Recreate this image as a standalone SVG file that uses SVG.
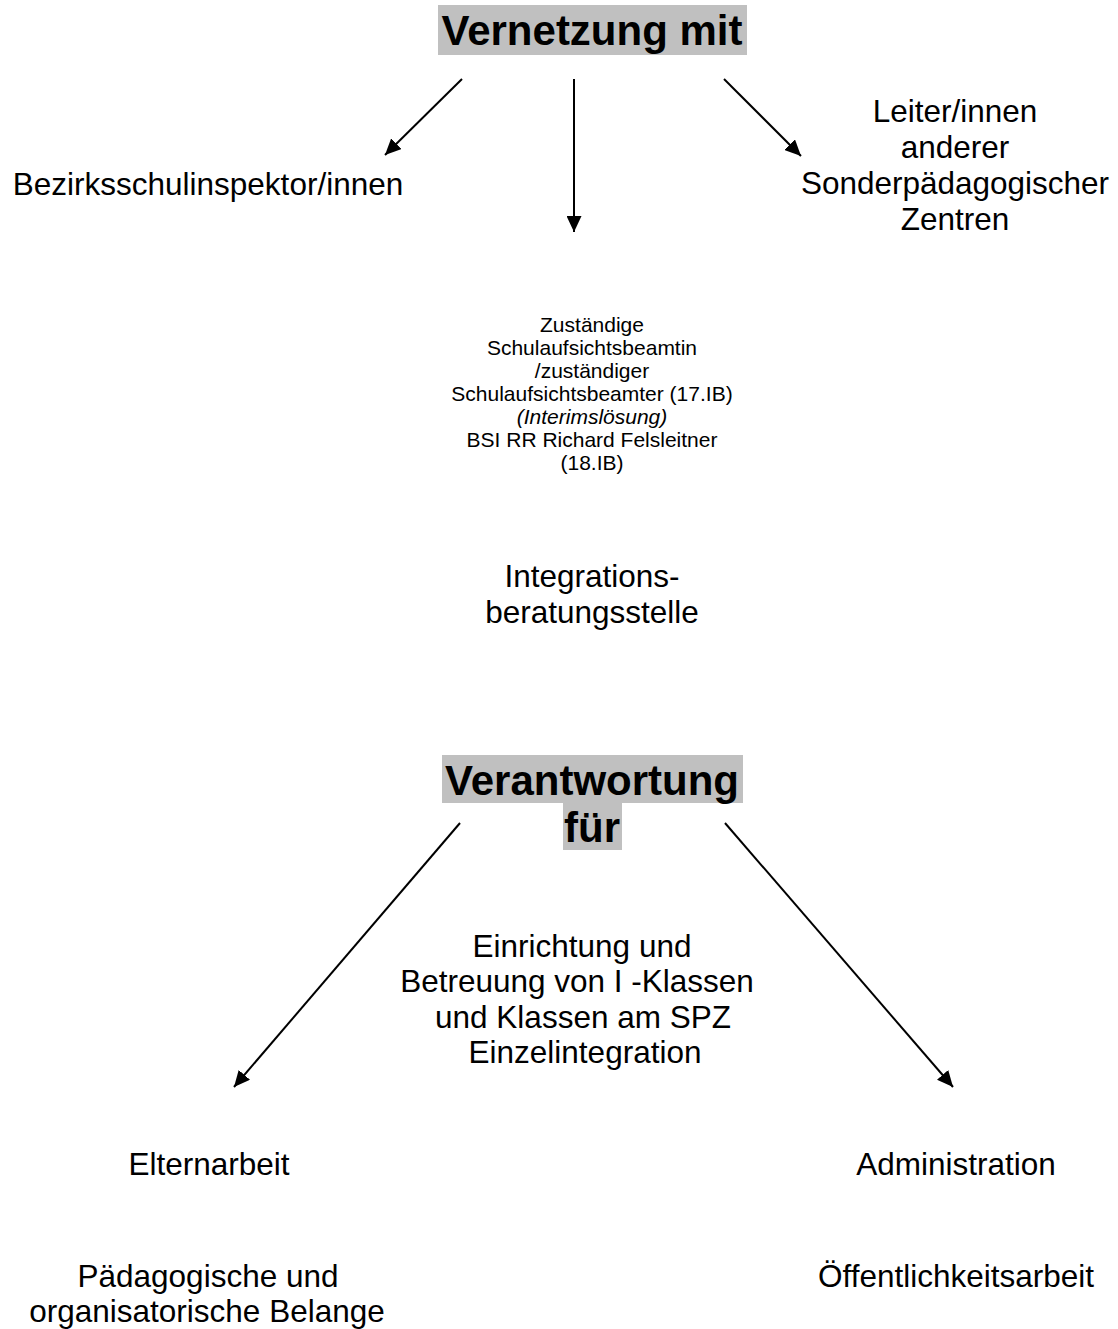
<svg xmlns="http://www.w3.org/2000/svg" width="1118" height="1329" viewBox="0 0 1118 1329">
<style>
text{font-family:"Liberation Sans",Arial,sans-serif;fill:#000}
.t{font-size:42px;font-weight:bold;text-anchor:middle}
.n{font-size:31.5px;text-anchor:middle}
.s{font-size:21px;text-anchor:middle}
.hl{fill:#c0c0c0}
.c{stroke:#000;stroke-width:2;fill:none;marker-end:url(#ah)}
</style>
<defs>
<marker id="ah" markerUnits="userSpaceOnUse" markerWidth="16" markerHeight="15" refX="16" refY="7.5" orient="auto">
<path d="M0,0 L16,7.5 L0,15 z" fill="#000"/>
</marker>
</defs>
<rect width="1118" height="1329" fill="#fff"/>
<g id="connectors">
<line class="c" x1="462" y1="79" x2="385" y2="155"/>
<line class="c" x1="574" y1="79" x2="574" y2="232"/>
<line class="c" x1="724" y1="79" x2="801" y2="156"/>
<line class="c" x1="460" y1="823" x2="234" y2="1087"/>
<line class="c" x1="725" y1="823" x2="953" y2="1087"/>
</g>
<g id="vernetzung">
<rect class="hl" x="438" y="5" width="309" height="50"/>
<text class="t" x="592" y="45">Vernetzung mit</text>
</g>
<g id="bezirksschulinspektor">
<text class="n" x="208" y="195">Bezirksschulinspektor/innen</text>
</g>
<g id="leiter">
<text class="n" x="955"><tspan x="955" y="122">Leiter/innen</tspan><tspan x="955" y="158">anderer</tspan><tspan x="955" y="194">Sonderpädagogischer</tspan><tspan x="955" y="230">Zentren</tspan></text>
</g>
<g id="schulaufsicht">
<text class="s"><tspan x="592" y="332">Zuständige</tspan><tspan x="592" y="355">Schulaufsichtsbeamtin</tspan><tspan x="592" y="378">/zuständiger</tspan><tspan x="592" y="401">Schulaufsichtsbeamter (17.IB)</tspan><tspan x="592" y="424" font-style="italic">(Interimslösung)</tspan><tspan x="592" y="447">BSI RR Richard Felsleitner</tspan><tspan x="592" y="470">(18.IB)</tspan></text>
</g>
<g id="integrationsberatungsstelle">
<text class="n"><tspan x="592" y="587">Integrations-</tspan><tspan x="592" y="623">beratungsstelle</tspan></text>
</g>
<g id="verantwortung">
<rect class="hl" x="442" y="755" width="301" height="48"/>
<rect class="hl" x="563" y="803" width="59" height="47"/>
<text class="t"><tspan x="592" y="795">Verantwortung</tspan><tspan x="592" y="842">für</tspan></text>
</g>
<g id="einrichtung">
<text class="n"><tspan x="582" y="957">Einrichtung und</tspan><tspan x="577" y="992">Betreuung von I -Klassen</tspan><tspan x="583" y="1028">und Klassen am SPZ</tspan><tspan x="585" y="1063">Einzelintegration</tspan></text>
</g>
<g id="elternarbeit">
<text class="n" x="209" y="1175">Elternarbeit</text>
</g>
<g id="administration">
<text class="n" x="956" y="1175">Administration</text>
</g>
<g id="paedagogische">
<text class="n"><tspan x="208" y="1287">Pädagogische und</tspan><tspan x="207" y="1322">organisatorische Belange</tspan></text>
</g>
<g id="oeffentlichkeitsarbeit">
<text class="n" x="956" y="1287">Öffentlichkeitsarbeit</text>
</g>
</svg>
